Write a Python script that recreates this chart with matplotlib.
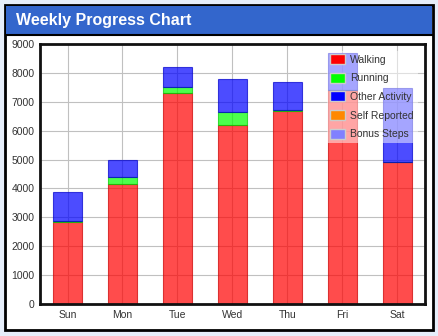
import numpy as np
import matplotlib
matplotlib.use("Agg")
from matplotlib import pyplot as plt
import matplotlib.patches as patches

days = ["Sun", "Mon", "Tue", "Wed", "Thu", "Fri", "Sat"]
walking = [2850, 4150, 7300, 6180, 6690, 7400, 4900]
running = [20, 250, 200, 470, 20, 20, 20]
other = [1010, 600, 700, 1130, 970, 1260, 2550]

series_names = ["Walking", "Running", "Other Activity", "Self Reported", "Bonus Steps"]
series_colors = ["#ff0000", "#00ff00", "#0000ff", "#ff8800", "#8080ff"]

plt.rcParams['font.family'] = ['Liberation Sans', 'DejaVu Sans']

W, H = 439, 336
fig = plt.figure(figsize=(W / 100, H / 100), dpi=100)
fig.patch.set_facecolor("#e6eefa")


def box(x0, y0, x1, y1, **kw):
    # pixel box -> figure fraction rectangle
    r = patches.Rectangle((x0 / W, 1 - y1 / H), (x1 - x0) / W, (y1 - y0) / H,
                          transform=fig.transFigure, zorder=-5, **kw)
    fig.patches.append(r)


# white panel with black frame, blue title strip
box(5, 5, 433, 330, facecolor="white", edgecolor="black", linewidth=2)
box(6, 6, 432, 34, facecolor="#3366cc", edgecolor="none")
fig.add_artist(plt.Line2D([6 / W, 432 / W], [1 - 34.5 / H] * 2, color="black",
                          linewidth=1.5, transform=fig.transFigure, zorder=-4))
fig.text(16 / W, 1 - 20 / H, "Weekly Progress Chart", color="white",
         fontsize=11.5, fontweight="bold", va="center", ha="left")

ax = fig.add_axes([40 / W, 1 - 304 / H, 385 / W, 260 / H])
ax.set_zorder(5)
x = np.arange(len(days))
bw = 0.53

walking = np.array(walking)
running = np.array(running)
other = np.array(other)

ax.bar(x, walking, bw, color="#ff0000", alpha=0.7, edgecolor="#cc0000", linewidth=0.8, zorder=2)
ax.bar(x, running, bw, bottom=walking, color="#00ff00", alpha=0.7, edgecolor="#00cc00",
       linewidth=0.8, zorder=2)
ax.bar(x, other, bw, bottom=walking + running, color="#0000ff", alpha=0.7,
       edgecolor="#0000cc", linewidth=0.8, zorder=2)

ax.set_xlim(-0.5, 6.5)
ax.set_ylim(0, 9000)
ax.set_yticks(range(0, 9001, 1000))
ax.set_xticks(x)
ax.set_xticklabels(days)
ax.tick_params(length=0, labelsize=7.5, colors="#333333", pad=4)
ax.grid(True, color="#c0c0c0", linewidth=0.8)
ax.set_axisbelow(True)
for s in ax.spines.values():
    s.set_linewidth(2)
    s.set_color("#111111")

handles = [patches.Patch(facecolor=c, edgecolor="#cccccc", linewidth=1) for c in series_colors]
leg = ax.legend(handles, series_names, loc="upper left", bbox_to_anchor=(0.745, 0.975),
                fontsize=7.5, frameon=True, framealpha=0.5, edgecolor="none",
                fancybox=False, handlelength=1.4, handleheight=1.1, labelspacing=0.78,
                handletextpad=0.5, borderpad=0.35, borderaxespad=0)
leg.get_frame().set_facecolor("white")
for t in leg.get_texts():
    t.set_color("#333333")

fig.savefig("out.png", dpi=100, facecolor=fig.get_facecolor())
